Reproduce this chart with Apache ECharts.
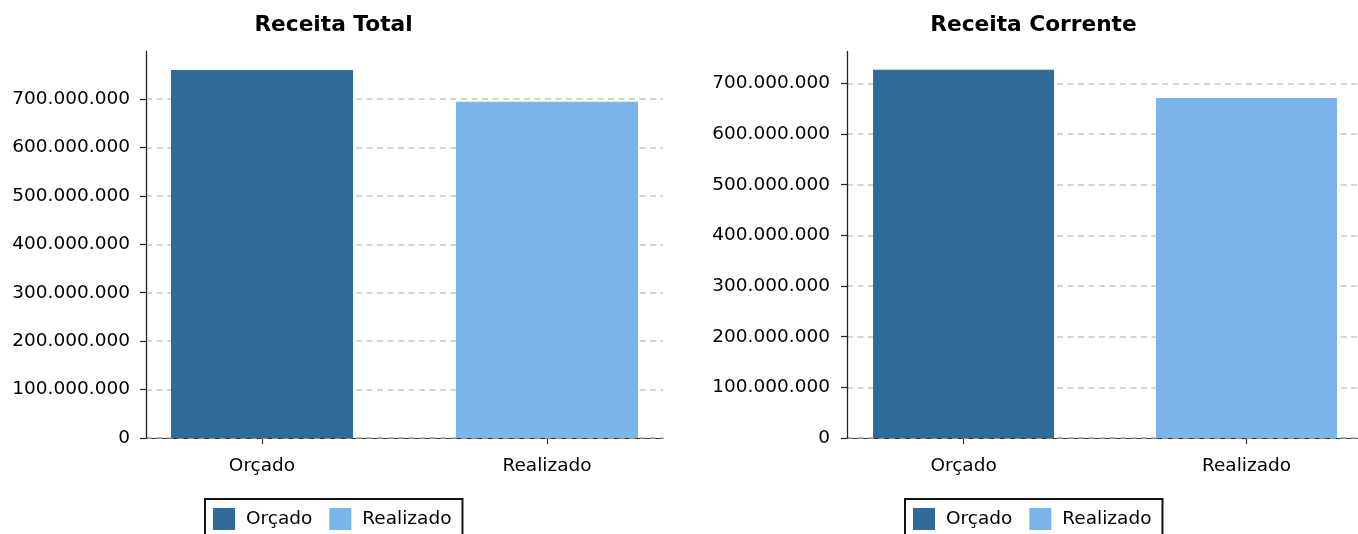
<!DOCTYPE html>
<html>
<head>
<meta charset="utf-8">
<script src="https://cdn.jsdelivr.net/npm/echarts@6/dist/echarts.min.js"></script>
<style>
html,body{margin:0;padding:0;background:#fff;}
#chart{width:1358px;height:534px;}
</style>
</head>
<body>
<div id="chart"></div>
<script>
const categories = ['Orçado', 'Realizado'];
const titles = ['Receita Total', 'Receita Corrente'];
const orcado = [760000000, 727000000];
const realizado = [694000000, 671000000];
const yMax = [798000000, 763000000];
const yTicks = [0, 100000000, 200000000, 300000000, 400000000, 500000000, 600000000, 700000000];

const FONT = 'DejaVu Sans';
const C_ORC = '#2f6a99';
const C_REA = '#79b4ea';

function fmt(v) {
  return String(Math.round(v)).replace(/\B(?=(\d{3})+(?!\d))/g, '.');
}

const panels = [
  {left: 146, width: 517, xmin: -0.407, xmax: 1.407, barW: 182, center: 333.5, legendLeft: 205, labMargin: 16},
  {left: 847, width: 511, xmin: -0.412, xmax: 1.394, barW: 181, center: 1033.5, legendLeft: 905, labMargin: 17}
];

const grid = [], xAxis = [], yAxis = [], series = [], legend = [], graphic = [];
panels.forEach((p, i) => {
  grid.push({left: p.left, top: 51.5, width: p.width, height: 386.5, containLabel: false});
  xAxis.push({
    type: 'value', gridIndex: i, min: p.xmin, max: p.xmax, z: 0,
    axisLine: {show: true, onZero: false, lineStyle: {color: '#333', width: 1.2}},
    axisTick: {show: true, customValues: [0, 1], length: 6, lineStyle: {color: '#333', width: 1.2}},
    axisLabel: {customValues: [0, 1], formatter: v => categories[Math.round(v)] || '', fontFamily: FONT, fontSize: 18.5, color: '#000', margin: 19},
    splitLine: {show: false}
  });
  yAxis.push({
    type: 'value', gridIndex: i, min: 0, max: yMax[i], interval: 100000000, z: 1,
    axisLine: {show: true, onZero: false, lineStyle: {color: '#222', width: 1.3}},
    axisTick: {show: true, customValues: yTicks, length: 6, lineStyle: {color: '#222', width: 1.2}},
    axisLabel: {customValues: yTicks, formatter: v => fmt(v), fontFamily: FONT, fontSize: 18.5, color: '#000', margin: p.labMargin},
    splitLine: {show: true, lineStyle: {color: ['#aaa', '#c8c8c8', '#c8c8c8', '#c8c8c8', '#c8c8c8', '#c8c8c8', '#c8c8c8', '#c8c8c8', 'rgba(0,0,0,0)'], width: 1.5, type: [6, 4.5]}}
  });
  series.push({
    name: categories[0], type: 'bar', xAxisIndex: i, yAxisIndex: i,
    barWidth: p.barW, barGap: '-100%', itemStyle: {color: C_ORC},
    data: [[0, orcado[i]]]
  });
  series.push({
    name: categories[1], type: 'bar', xAxisIndex: i, yAxisIndex: i,
    barWidth: p.barW, barGap: '-100%', itemStyle: {color: C_REA},
    data: [[1, realizado[i]]]
  });
  legend.push({
    left: p.legendLeft, top: 499, orient: 'horizontal',
    data: categories, icon: 'rect', itemWidth: 22, itemHeight: 22, itemGap: 17,
    padding: [9, 11, 9, 8], borderColor: '#111', borderWidth: 2, borderRadius: 0,
    selectedMode: false,
    textStyle: {fontFamily: FONT, fontSize: 18.5, color: '#000', padding: [0, 0, 0, 6]}
  });
  graphic.push({
    type: 'text', x: p.center, y: 25,
    style: {text: titles[i], textAlign: 'center', textVerticalAlign: 'middle', font: 'bold 21.7px "DejaVu Sans"', fill: '#000'}
  });
});

const chart = echarts.init(document.getElementById('chart'), null, {renderer: 'canvas'});
chart.setOption({
  animation: false,
  backgroundColor: '#fff',
  grid, xAxis, yAxis, series, legend, graphic
});
</script>
</body>
</html>
